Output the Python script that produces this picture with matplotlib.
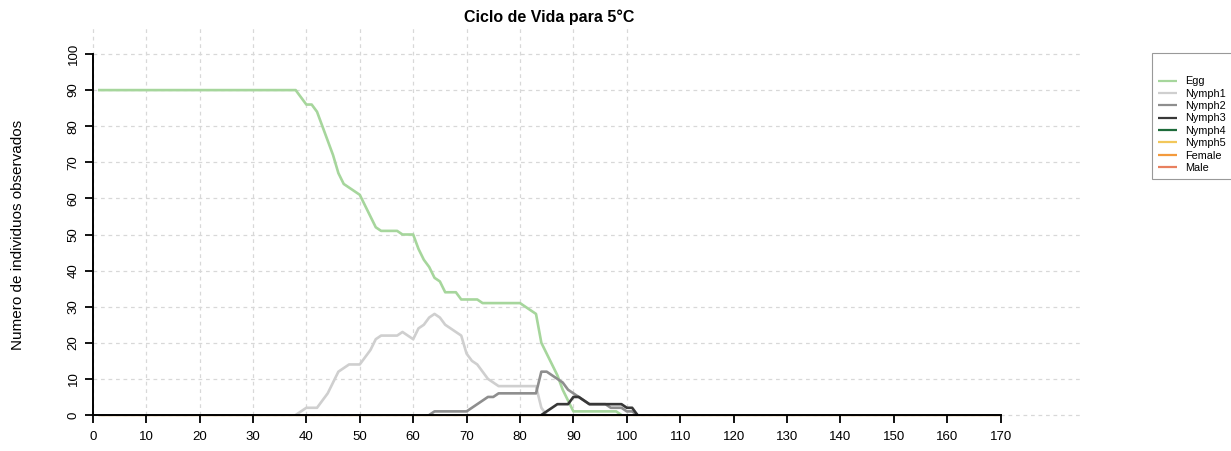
import matplotlib
matplotlib.use("Agg")
import matplotlib.pyplot as plt

plt.rcParams['font.family'] = ['Liberation Sans', 'DejaVu Sans']

# ---------------- data ----------------
title = "Ciclo de Vida para 5°C"
ylabel = "Numero de individuos observados"
stages = ["Egg", "Nymph1", "Nymph2", "Nymph3", "Nymph4", "Nymph5", "Female", "Male"]
colors = ["#a6d69c", "#cfcfcf", "#8e8e8e", "#383838", "#1d6b3a", "#f2c75a", "#f39a3c", "#e8805f"]

egg_days = [1, 38, 39, 40, 41, 42, 43, 44, 45, 46, 47, 48, 49, 50, 51, 52, 53, 54, 57, 58, 60,
            61, 62, 63, 64, 65, 66, 68, 69, 72, 73, 80, 81, 82, 83, 84, 85, 86, 87, 88, 89, 90, 98, 99]
egg_counts = [90, 90, 88, 86, 86, 84, 80, 76, 72, 67, 64, 63, 62, 61, 58, 55, 52, 51, 51, 50, 50,
              46, 43, 41, 38, 37, 34, 34, 32, 32, 31, 31, 30, 29, 28, 20, 17, 14, 11, 7, 4, 1, 1, 0]

nymph1_days = [38, 39, 40, 42, 43, 44, 45, 46, 47, 48, 50, 51, 52, 53, 54, 57, 58, 59, 60, 61, 62, 63,
               64, 65, 66, 67, 68, 69, 70, 71, 72, 73, 74, 75, 76, 83, 84, 85]
nymph1_counts = [0, 1, 2, 2, 4, 6, 9, 12, 13, 14, 14, 16, 18, 21, 22, 22, 23, 22, 21, 24, 25, 27,
                 28, 27, 25, 24, 23, 22, 17, 15, 14, 12, 10, 9, 8, 8, 2, 0]

nymph2_days = [63, 64, 70, 71, 72, 73, 74, 75, 76, 83, 84, 85, 86, 87, 88, 89, 90, 91, 92, 93,
               96, 97, 99, 100, 101, 102]
nymph2_counts = [0, 1, 1, 2, 3, 4, 5, 5, 6, 6, 12, 12, 11, 10, 9, 7, 6, 5, 4, 3,
                 3, 2, 2, 1, 1, 0]

nymph3_days = [84, 85, 86, 87, 89, 90, 91, 92, 93, 99, 100, 101, 102]
nymph3_counts = [0, 1, 2, 3, 3, 5, 5, 4, 3, 3, 2, 2, 0]

nymph4_days = [1, 170]
nymph4_counts = [0, 0]
nymph5_days = [1, 170]
nymph5_counts = [0, 0]
female_days = [1, 170]
female_counts = [0, 0]
male_days = [1, 170]
male_counts = [0, 0]

x_ticks = list(range(0, 171, 10))
y_ticks = list(range(0, 101, 10))
vgrid = list(range(0, 101, 10))

# ---------------- figure ----------------
W, H = 1231, 451
fig = plt.figure(figsize=(W / 100, H / 100), dpi=100)


def box(x0, y0, x1, y1):
    return [x0 / W, 1 - y1 / H, (x1 - x0) / W, (y1 - y0) / H]


ax = fig.add_axes(box(55, 25, 1080, 431))
xpu = 5.341
ypu = 3.61
ax.set_xlim((55 - 92.7) / xpu, (1080 - 92.7) / xpu)
ax.set_ylim((415 - 431) / ypu, (415 - 25) / ypu)

gcol = "#d8d8d8"
ax.hlines(y_ticks, 0, ax.get_xlim()[1], colors=gcol, linewidth=0.9,
          linestyles=(0, (3, 3)), zorder=0.5)
ax.vlines(vgrid, 0, ax.get_ylim()[1], colors=gcol, linewidth=0.9,
          linestyles=(0, (3, 3)), zorder=0.5)

series = [
    (egg_days, egg_counts), (nymph1_days, nymph1_counts), (nymph2_days, nymph2_counts),
    (nymph3_days, nymph3_counts), (nymph4_days, nymph4_counts), (nymph5_days, nymph5_counts),
    (female_days, female_counts), (male_days, male_counts),
]
handles = []
for name, col, (d, c) in zip(stages, colors, series):
    visible = max(c) > 0
    ln, = ax.plot(d, c, color=col, linewidth=1.9 if visible else 0.8, label=name,
                  zorder=2 if visible else 1,
                  solid_joinstyle='round', solid_capstyle='butt')
    handles.append(ln)

for s in ["top", "right"]:
    ax.spines[s].set_visible(False)
ax.spines["left"].set_position(("data", 0))
ax.spines["bottom"].set_position(("data", 0))
ax.spines["left"].set_bounds(0, 100)
ax.spines["bottom"].set_bounds(0, 170)
for s in ["left", "bottom"]:
    ax.spines[s].set_linewidth(1.4)
    ax.spines[s].set_zorder(3)

ax.set_xticks(x_ticks)
ax.set_yticks(y_ticks)
ax.set_yticklabels([str(v) for v in y_ticks], rotation=90, va="center")
ax.tick_params(axis="both", length=5.5, width=1.3, labelsize=9.5, color="black")
ax.tick_params(axis="x", pad=6)
ax.tick_params(axis="y", pad=4)

fig.text(18 / W, 1 - 235 / H, ylabel, rotation=90, ha="center", va="center", fontsize=11)
fig.text(549 / W, 1 - 22 / H, title, ha="center", va="baseline", fontsize=11.5,
         fontweight="bold")

leg = fig.legend(handles, stages, loc="upper left", bbox_to_anchor=(1152 / W, 1 - 53 / H),
                 fontsize=7.8, title=" ", title_fontsize=11.5, frameon=True, fancybox=False,
                 edgecolor="#808080", handlelength=1.8, handletextpad=0.75,
                 labelspacing=0.22, borderpad=0.55, borderaxespad=0)
leg.get_frame().set_linewidth(0.8)
for lh in leg.get_lines():
    lh.set_linewidth(1.6)

fig.savefig("out.png", dpi=100, facecolor="white")
